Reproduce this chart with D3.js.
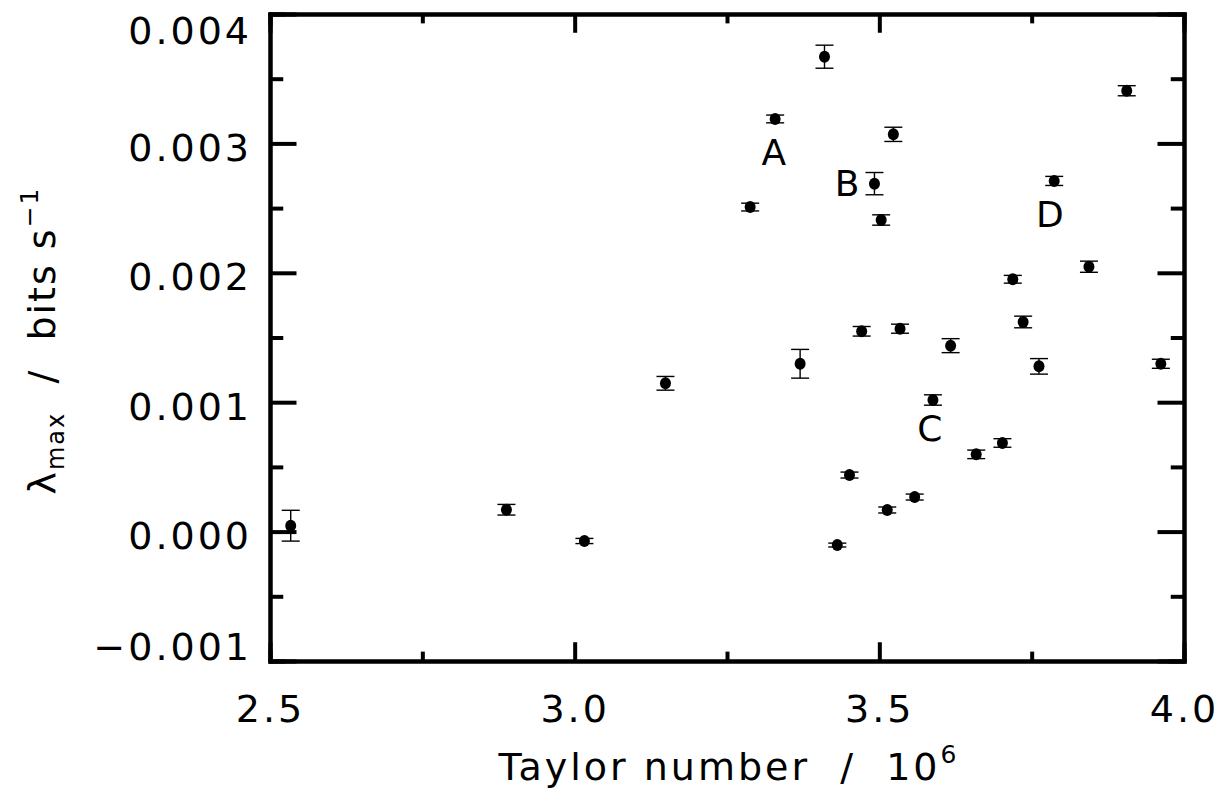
<!DOCTYPE html>
<html>
<head>
<meta charset="utf-8">
<script src="https://cdn.jsdelivr.net/npm/d3@7"></script>
<style>
  body { margin: 0; background: #fff; }
  text { font-family: "DejaVu Sans", sans-serif; fill: #000; }
</style>
</head>
<body>
<div id="chart"></div>
<script>
// Dados
var taylor = [2.534, 2.888, 3.016, 3.149, 3.288, 3.329, 3.370, 3.410, 3.431, 3.451,
              3.471, 3.492, 3.503, 3.513, 3.523, 3.534, 3.558, 3.588, 3.617, 3.659,
              3.702, 3.719, 3.736, 3.762, 3.787, 3.844, 3.906, 3.962];
var lambdaMax = [0.0000456, 0.000169, -0.0000726, 0.001146, 0.002508, 0.003189, 0.001297, 0.00367, -0.000104, 0.000437,
                 0.001548, 0.002689, 0.002408, 0.000167, 0.00307, 0.001568, 0.000267, 0.001017, 0.001437, 0.000597,
                 0.000685, 0.00195, 0.00162, 0.001277, 0.00271, 0.002047, 0.003407, 0.001297];
var lambdaErr = [0.000119, 0.000041, 0.00002, 0.000053, 0.00003, 0.00003, 0.000111, 0.000089, 0.000015, 0.000023,
                 0.000037, 0.000086, 0.00004, 0.000023, 0.000055, 0.000035, 0.000023, 0.00004, 0.000054, 0.000033,
                 0.000033, 0.00003, 0.000045, 0.00006, 0.000035, 0.000043, 0.000039, 0.000035];

var labelText = ["A", "B", "C", "D"];
var labelTaylor = [3.327, 3.447, 3.583, 3.780];
var labelLambda = [0.002933, 0.002694, 0.000801, 0.002454];

var xMajor = [2.5, 3.0, 3.5, 4.0];
var xMinor = [2.75, 3.25, 3.75];
var yMajor = [-0.001, 0.000, 0.001, 0.002, 0.003, 0.004];
var yMinor = [-0.0005, 0.0005, 0.0015, 0.0025, 0.0035];

var points = taylor.map(function(t, i) {
    return { x: t, y: lambdaMax[i], e: lambdaErr[i] };
});

// Area do grafico
var margin = { top: 14, right: 41, bottom: 136, left: 270 };
var width = 1225 - margin.left - margin.right;
var height = 797 - margin.top - margin.bottom;

var svg = d3.select("#chart")
    .append("svg")
    .attr("width", 1225)
    .attr("height", 797);

var g = svg.append("g")
    .attr("transform", "translate(" + margin.left + "," + margin.top + ")");

var xScale = d3.scaleLinear().domain([2.5, 4.0]).range([0, width]);
var yScale = d3.scaleLinear().domain([-0.001, 0.004]).range([height, 0]);

var xLen = 0.029 * height;   // comprimento dos ticks
var yLen = 0.029 * width;

function styleAxis(sel) {
    sel.select(".domain").attr("stroke-width", 4).attr("stroke-linecap", "square");
    sel.selectAll(".tick line").attr("stroke-width", 4);
    sel.selectAll(".tick text").style("font-size", "38px").style("letter-spacing", "3px");
}

// Eixos com ticks para dentro
g.append("g").attr("transform", "translate(0," + height + ")")
    .call(d3.axisBottom(xScale).tickValues(xMajor).tickSizeInner(-xLen).tickSizeOuter(0)
        .tickPadding(34).tickFormat(d3.format(".1f")))
    .call(styleAxis);
g.append("g").attr("transform", "translate(0," + height + ")")
    .call(d3.axisBottom(xScale).tickValues(xMinor).tickSize(-xLen / 2).tickFormat(""))
    .call(styleAxis);
g.append("g")
    .call(d3.axisTop(xScale).tickValues(xMajor).tickSizeInner(-xLen).tickSizeOuter(0).tickFormat(""))
    .call(styleAxis);
g.append("g")
    .call(d3.axisTop(xScale).tickValues(xMinor).tickSize(-xLen / 2).tickFormat(""))
    .call(styleAxis);

var yAxisG = g.append("g")
    .call(d3.axisLeft(yScale).tickValues(yMajor).tickSizeInner(-yLen).tickSizeOuter(0)
        .tickPadding(18).tickFormat(d3.format(".3f")))
    .call(styleAxis);
// rotulos das pontas ficam para dentro, como no original
yAxisG.selectAll(".tick text")
    .attr("dy", function(d) {
        if (d === 0.004) return "0.78em";
        if (d === -0.001) return "-0.05em";
        return "0.45em";
    });
g.append("g")
    .call(d3.axisLeft(yScale).tickValues(yMinor).tickSize(-yLen / 2).tickFormat(""))
    .call(styleAxis);
g.append("g").attr("transform", "translate(" + width + ",0)")
    .call(d3.axisRight(yScale).tickValues(yMajor).tickSizeInner(-yLen).tickSizeOuter(0).tickFormat(""))
    .call(styleAxis);
g.append("g").attr("transform", "translate(" + width + ",0)")
    .call(d3.axisRight(yScale).tickValues(yMinor).tickSize(-yLen / 2).tickFormat(""))
    .call(styleAxis);

// Barras de erro
var capW = 9;
var bars = g.selectAll(".err").data(points).enter().append("g").attr("class", "err")
    .attr("stroke", "#000").attr("stroke-width", 1.4);
bars.append("line")
    .attr("x1", function(d) { return xScale(d.x); })
    .attr("x2", function(d) { return xScale(d.x); })
    .attr("y1", function(d) { return yScale(d.y - d.e); })
    .attr("y2", function(d) { return yScale(d.y + d.e); });
bars.append("line")
    .attr("x1", function(d) { return xScale(d.x) - capW; })
    .attr("x2", function(d) { return xScale(d.x) + capW; })
    .attr("y1", function(d) { return yScale(d.y + d.e); })
    .attr("y2", function(d) { return yScale(d.y + d.e); });
bars.append("line")
    .attr("x1", function(d) { return xScale(d.x) - capW; })
    .attr("x2", function(d) { return xScale(d.x) + capW; })
    .attr("y1", function(d) { return yScale(d.y - d.e); })
    .attr("y2", function(d) { return yScale(d.y - d.e); });

// Pontos
g.selectAll(".dot").data(points).enter().append("ellipse")
    .attr("class", "dot")
    .attr("cx", function(d) { return xScale(d.x); })
    .attr("cy", function(d) { return yScale(d.y); })
    .attr("rx", 5.5)
    .attr("ry", 6)
    .attr("fill", "#000");

// Letras A-D
g.selectAll(".lbl").data(labelText).enter().append("text")
    .attr("class", "lbl")
    .attr("x", function(d, i) { return xScale(labelTaylor[i]); })
    .attr("y", function(d, i) { return yScale(labelLambda[i]); })
    .attr("dy", "0.36em")
    .attr("text-anchor", "middle")
    .style("font-size", "36px")
    .text(function(d) { return d; });

// Titulos dos eixos
var xt = svg.append("text")
    .attr("x", margin.left + width / 2 + 2)
    .attr("y", 780)
    .attr("text-anchor", "middle")
    .style("font-size", "38px")
    .style("letter-spacing", "3px")
    .style("white-space", "pre");
xt.append("tspan").text("Taylor number  /  10");
xt.append("tspan").attr("dy", -17).style("font-size", "25px").text("6");

var yt = svg.append("text")
    .attr("transform", "translate(55," + (margin.top + height / 2 + 3) + ") rotate(-90)")
    .attr("text-anchor", "middle")
    .style("font-size", "38px")
    .style("letter-spacing", "2px")
    .style("white-space", "pre");
yt.append("tspan").text("\u03bb");
yt.append("tspan").attr("dy", 9).style("font-size", "24px").text("max");
yt.append("tspan").attr("dy", -9).text("  /  bits s");
yt.append("tspan").attr("dy", -17).style("font-size", "25px").text("\u22121");
</script>
</body>
</html>
